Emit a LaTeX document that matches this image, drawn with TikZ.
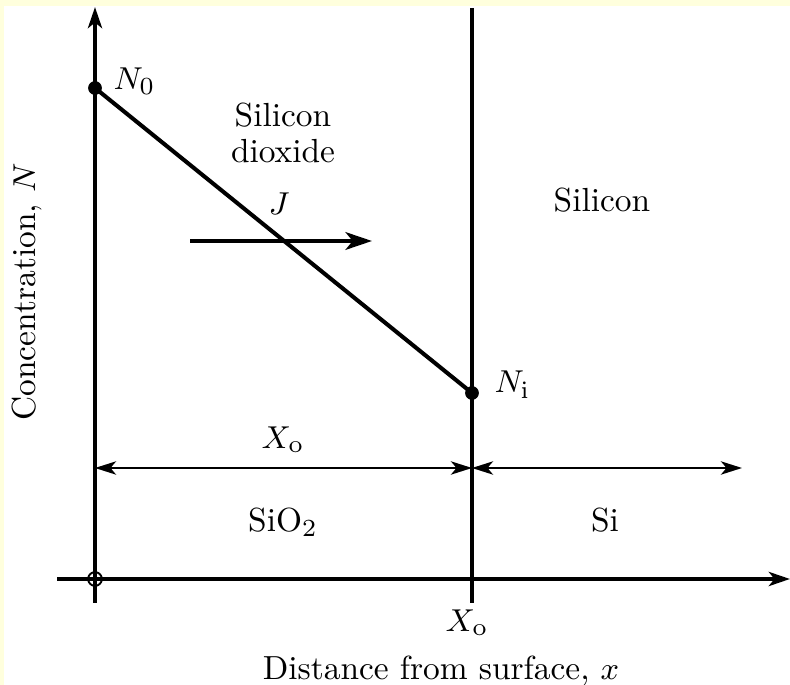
\documentclass[tikz,border=0pt]{standalone}
\usetikzlibrary{arrows.meta}
\definecolor{cream}{RGB}{255,255,221}
\tikzset{
  axis/.style={line width=1.15pt, -{Stealth[length=6pt,width=4pt,inset=1.6pt]}},
  flux/.style={line width=1.15pt, -{Stealth[length=7.5pt,width=5pt,inset=2pt]}},
  wall/.style={line width=1.15pt},
  dim/.style={line width=0.55pt, {Stealth[length=6pt,width=3.8pt,inset=1.6pt]}-{Stealth[length=6pt,width=3.8pt,inset=1.6pt]}},
  dot/.style={circle, fill=black, inner sep=0pt, minimum size=3.9pt},
  lbl/.style={font=\fontsize{9.5}{9.5}\selectfont, inner sep=0pt},
}
\begin{document}
\begin{tikzpicture}[x=0.01cm, y=-0.01cm]
  \fill[cream] (0,0) rectangle (790,685);
  \fill[white] (4,6) rectangle (790,685);
  \useasboundingbox (0,0) rectangle (790,685);

  % axes
  \coordinate (xs) at (57,579);
  \coordinate (xe) at (790,579);
  \coordinate (ys) at (95,603);
  \coordinate (ye) at (95,7);
  \draw[axis] (xs) -- (xe);
  \draw[axis] (ys) -- (ye);
  \node[circle, draw, line width=0.55pt, inner sep=0pt, minimum size=3.9pt] (orig) at (95,579) {};

  % oxide/silicon interface
  \coordinate (wt) at (472,8);
  \coordinate (wb) at (472,603);
  \draw[wall] (wt) -- (wb);

  % concentration profile
  \node[dot] (n0) at (95,88) {};
  \node[dot] (ni) at (472,393) {};
  \draw[wall] (n0.center) -- (ni.center);
  \node[lbl, anchor=base west] (n0lbl) at (113,90) {$N_0$};
  \node[lbl, anchor=base west] (nilbl) at (494,393) {$N_\mathrm{i}$};

  % flux
  \coordinate (js) at (190,241);
  \coordinate (je) at (372,241);
  \draw[flux] (js) -- (je);
  \node[lbl, anchor=base] (jlbl) at (279,215) {$J$};

  \node[lbl, anchor=base] (sio) at (283,127) {Silicon};
  \node[lbl, anchor=base] (dio) at (283,163) {dioxide};
  \node[lbl, anchor=base] (si) at (602,212) {Silicon};

  % thickness
  \coordinate (d0) at (95,468);
  \coordinate (d1) at (472,468);
  \coordinate (d2) at (742,468);
  \draw[dim] (d0) -- (d1);
  \draw[dim] (d1) -- (d2);
  \node[lbl, anchor=base] (xolbl) at (283,449) {$X_\mathrm{o}$};
  \node[lbl, anchor=base] (oxlbl) at (283,532) {SiO$_2$};
  \node[lbl, anchor=base] (silbl) at (605,532) {Si};

  % axis labels
  \node[lbl, anchor=base] (xotick) at (467,632) {$X_\mathrm{o}$};
  \node[lbl, anchor=base] (xlbl) at (441,680) {Distance from surface, $x$};
  \node[lbl, anchor=base, rotate=90] (ylbl) at (35,292) {Concentration, $N$};
\end{tikzpicture}
\end{document}
